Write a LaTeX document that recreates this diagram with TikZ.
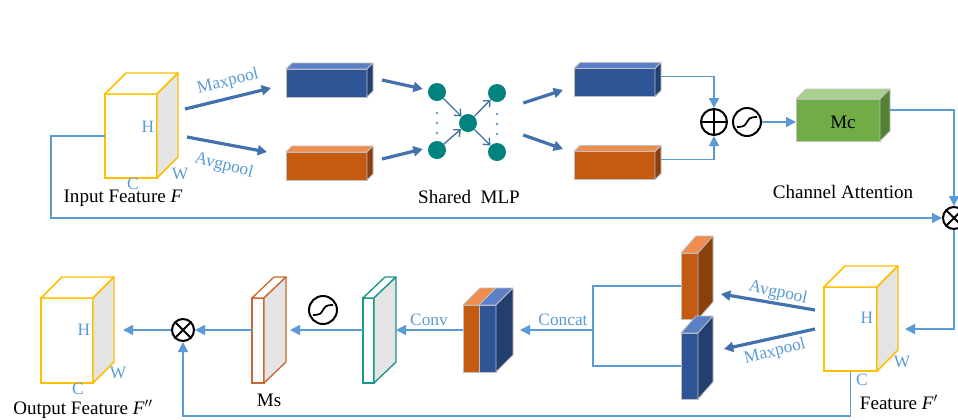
\documentclass[tikz,border=0pt]{standalone}
\usepackage{fontspec}
\setmainfont{Liberation Serif}
\usetikzlibrary{calc,arrows.meta}

\definecolor{lineblue}{HTML}{5B9BD5}
\definecolor{arrowblue}{HTML}{4272AE}
\definecolor{cubeyellow}{HTML}{FFC000}
\definecolor{sidegray}{HTML}{E4E4E4}
\definecolor{bluefront}{HTML}{2F5597}
\definecolor{bluetop}{HTML}{5B80C8}
\definecolor{blueside}{HTML}{223F70}
\definecolor{orangefront}{HTML}{C55A11}
\definecolor{orangetop}{HTML}{F08C4E}
\definecolor{orangeside}{HTML}{8A400E}
\definecolor{greenfront}{HTML}{70AD47}
\definecolor{greentop}{HTML}{A9D18E}
\definecolor{greenside}{HTML}{548235}
\definecolor{tealnode}{HTML}{00827F}
\definecolor{tealedge}{HTML}{16968F}
\definecolor{msedge}{HTML}{C86A2C}
\definecolor{edgegray}{HTML}{BFBFBF}
\definecolor{mlparrow}{HTML}{41719C}

% top and right faces of a box whose front face is the node #1
\newcommand{\boxfaces}[7]{% node, depth x, depth y, top fill, side fill, edge colour, line width
  \filldraw[draw=#6, fill=#4, line width=#7, line join=round] (#1.north west) -- ++(#2,-#3) -- ($(#1.north east)+(#2,-#3)$) -- (#1.north east) -- cycle;
  \filldraw[draw=#6, fill=#5, line width=#7, line join=round] (#1.north east) -- ++(#2,-#3) -- ($(#1.south east)+(#2,-#3)$) -- (#1.south east) -- cycle;
}
% sigmoid glyph inside the circle node #1
\newcommand{\sigglyph}[1]{%
  \draw[line width=1.3pt] ($(#1)+(-10,5)$) .. controls ($(#1)+(6,5)$) and ($(#1)+(-6,-5)$) .. ($(#1)+(10,-5)$);
}

\begin{document}
\begin{tikzpicture}[x=0.75pt, y=-0.75pt,
  front/.style 2 args={rectangle, inner sep=0pt, outer sep=0pt,
    minimum width=#1*0.75pt, minimum height=#2*0.75pt},
  cube/.style={draw=cubeyellow, fill=white, line width=1.1pt},
  bar/.style={draw=edgegray, line width=0.6pt},
  lbl/.style={text=lineblue, font=\fontsize{13}{15}\selectfont, inner sep=0pt},
  captxt/.style={font=\fontsize{14.3}{17}\selectfont, inner sep=0pt},
  conn/.style={draw=lineblue, line width=1.1pt, -{Triangle[length=7.5pt,width=7.5pt]}},
  wire/.style={draw=lineblue, line width=1.1pt},
  fat/.style={draw=arrowblue, line width=2.4pt, -{Triangle[length=7pt,width=7.5pt]}},
  neuron/.style={circle, fill=tealnode, minimum size=18*0.75pt, inner sep=0pt},
  mlp/.style={draw=mlparrow, line width=1pt, -{Straight Barb[length=4pt,width=7pt]}},
  opcircle/.style={circle, draw=black, line width=1.5pt, inner sep=0pt, fill=white},
]
\useasboundingbox[fill=white] (0,0) rectangle (958,419);

% ---------------- channel attention ----------------
% input feature cube
\node[front={52}{84}, cube] (fin) at (131,136) {};
\boxfaces{fin}{21}{21}{white}{sidegray}{cubeyellow}{1.1pt}
\node[lbl] (finH) at (148,127) {H};
\node[lbl] (finW) at (180,174) {W};
\node[lbl] (finC) at (133,184) {C};
\node[captxt] (finT) at (123,198) {Input Feature \textit{F}};

% pooled vectors
\node[front={81}{28}, bar, fill=bluefront] (rb) at (326.5,83) {};
\boxfaces{rb}{6}{6}{bluetop}{blueside}{edgegray}{0.6pt}
\node[front={81}{28}, bar, fill=orangefront] (ob) at (326.5,166) {};
\boxfaces{ob}{6}{6}{orangetop}{orangeside}{edgegray}{0.6pt}

\draw[fat] ($(fin.east)+(28,-27)$) -- ($(rb.west)+(-15,5)$);
\draw[fat] ($(fin.east)+(30,1)$) -- ($(ob.west)+(-19,-14)$);
\node[lbl, rotate=14] (tmax) at (228,82) {Maxpool};
\node[lbl, rotate=-14] (tavg) at (224,166) {Avgpool};

% shared MLP
\node[neuron] (m1) at (437,92) {};
\node[neuron] (m2) at (437,150) {};
\node[neuron] (m3) at (468,123) {};
\node[neuron] (m4) at (497,93) {};
\node[neuron] (m5) at (497,152) {};
\draw[mlp] (m1) -- (m3);
\draw[mlp] (m2) -- (m3);
\draw[mlp] (m3) -- (m4);
\draw[mlp] (m3) -- (m5);
\foreach \yy in {113,123,133} {
  \fill[lineblue] (437,\yy) circle[radius=1.3];
  \fill[lineblue] (497,\yy+1) circle[radius=1.3];
}
\node[captxt] (mlpT) at (469,197) {Shared\ \ MLP};

\draw[fat] ($(rb.east)+(15,-3)$) -- ($(m1.west)+(-5,-3)$);
\draw[fat] ($(ob.east)+(15,-7)$) -- ($(m2.west)+(-5,-1)$);

% MLP outputs
\node[front={81}{28}, bar, fill=bluefront] (rb2) at (614.5,82.5) {};
\boxfaces{rb2}{6}{6}{bluetop}{blueside}{edgegray}{0.6pt}
\node[front={81}{28}, bar, fill=orangefront] (ob2) at (614.5,165.5) {};
\boxfaces{ob2}{6}{6}{orangetop}{orangeside}{edgegray}{0.6pt}

\draw[fat] ($(m4.east)+(17,10)$) -- ($(rb2.west)+(-11,7.5)$);
\draw[fat] ($(m5.east)+(17,-17)$) -- ($(ob2.west)+(-11,-16.5)$);

% sum and sigmoid
\node[opcircle, minimum size=26*0.75pt] (op) at (714,122) {};
\draw[line width=1.5pt] (op.north) -- (op.south) (op.west) -- (op.east);
\node[opcircle, minimum size=28*0.75pt] (sg) at (747,122) {};
\sigglyph{sg}

\draw[conn] ($(rb2.east)+(6,-6)$) -| (op.north);
\draw[conn] ($(ob2.east)+(6,-6)$) -| (op.south);

% channel attention map
\node[front={84}{42}, bar, fill=greenfront] (mc) at (838,120) {};
\boxfaces{mc}{10}{10}{greentop}{greenside}{edgegray}{0.6pt}
\node[captxt] (mcT) at (843,122) {Mc};
\node[captxt] (caT) at (843,192) {Channel Attention};

\draw[conn] (sg.east) -- (sg.east -| mc.west);

% first multiplication
\node[opcircle, minimum size=22*0.75pt] (otA) at (954,218) {};
\draw[line width=1.5pt] (otA.north west) -- (otA.south east) (otA.north east) -- (otA.south west);

\draw[conn] ($(mc.east)+(10,-10)$) -| (otA.north);
\draw[conn] (fin.west) -- ++(-54,0) |- (otA.west);

% ---------------- spatial attention ----------------
% refined feature cube
\node[front={53}{84}, cube] (ff) at (850.5,329) {};
\boxfaces{ff}{21}{21}{white}{sidegray}{cubeyellow}{1.1pt}
\node[lbl] (ffH) at (867,318) {H};
\node[lbl] (ffW) at (902,362) {W};
\node[lbl] (ffC) at (862,380) {C};
\node[captxt] (ffT) at (899,402) {Feature \textit{F}$'$};

\draw[conn] (otA.south) |- ($(ff.east)+(28,0)$);

% pooled maps
\node[front={17}{66}, bar, fill=orangefront] (vo) at (689.5,286) {};
\boxfaces{vo}{15}{17}{orangetop}{orangeside}{edgegray}{0.6pt}
\node[front={17}{66}, bar, fill=bluefront] (vb) at (689.5,366) {};
\boxfaces{vb}{15}{17}{bluetop}{blueside}{edgegray}{0.6pt}

\draw[fat] ($(ff.west)+(-9,-19)$) -- ($(vo.east)+(23,8)$);
\draw[fat] ($(ff.west)+(-9,0)$) -- ($(vb.east)+(26,-17)$);
\node[lbl, rotate=-12] (bavg) at (778,293) {Avgpool};
\node[lbl, rotate=14] (bmax) at (775,352) {Maxpool};

% concatenation
\draw[wire] (vo.west) -- ++(-88,0) |- (vb.west);
\coordinate (cj) at (593,330);
\coordinate (cjend) at (520,330);
\draw[conn] (cj) -- (cjend);
\node[lbl] (concatT) at (563,320) {Concat};

\node[front={16}{67}, bar, fill=orangefront] (co) at (471,338.5) {};
\node[front={17}{67}, bar, fill=bluefront] (cb) at (487.5,338.5) {};
\filldraw[bar, fill=orangetop, line join=round] (co.north west) -- ++(17,-17) -- ($(co.north east)+(17,-17)$) -- (co.north east) -- cycle;
\boxfaces{cb}{17}{17}{bluetop}{blueside}{edgegray}{0.6pt}

% convolution output
\node[opcircle, minimum size=22*0.75pt] (otB) at (183,330) {};
\draw[line width=1.5pt] (otB.north west) -- (otB.south east) (otB.north east) -- (otB.south west);

\node[front={11}{85}, draw=tealedge, fill=white, line width=1pt] (ts) at (368.5,340.5) {};
\boxfaces{ts}{22}{21}{white}{sidegray}{tealedge}{1pt}
\draw[conn] (co.west |- otB) -- ($(ts.east |- otB)+(22,0)$);
\node[lbl] (convT) at (429,320) {Conv};

\node[opcircle, minimum size=28*0.75pt] (sg2) at (323,310) {};
\sigglyph{sg2}

% spatial attention map
\node[front={12}{85}, draw=msedge, fill=white, line width=1pt] (ms) at (258,340.5) {};
\boxfaces{ms}{22}{21}{white}{sidegray}{msedge}{1pt}
\node[captxt] (msT) at (269,400) {Ms};
\draw[conn] (ts.west |- otB) -- ($(ms.east |- otB)+(26,0)$);
\draw[conn] (ms.west |- otB) -- (otB.east);

% output feature cube
\node[front={52}{85}, cube] (fout) at (67,340.5) {};
\boxfaces{fout}{21}{21}{white}{sidegray}{cubeyellow}{1.1pt}
\node[lbl] (foutH) at (84,330) {H};
\node[lbl] (foutW) at (118,373) {W};
\node[lbl] (foutC) at (78,389) {C};
\node[captxt] (foutT) at (83,409) {Output Feature \textit{F}$''$};

\draw[conn] (otB.west) -- ($(fout.east |- otB)+(30,0)$);
\draw[conn] (ff.south) -- ++(0,45) -| (otB.south);
\end{tikzpicture}
\end{document}
